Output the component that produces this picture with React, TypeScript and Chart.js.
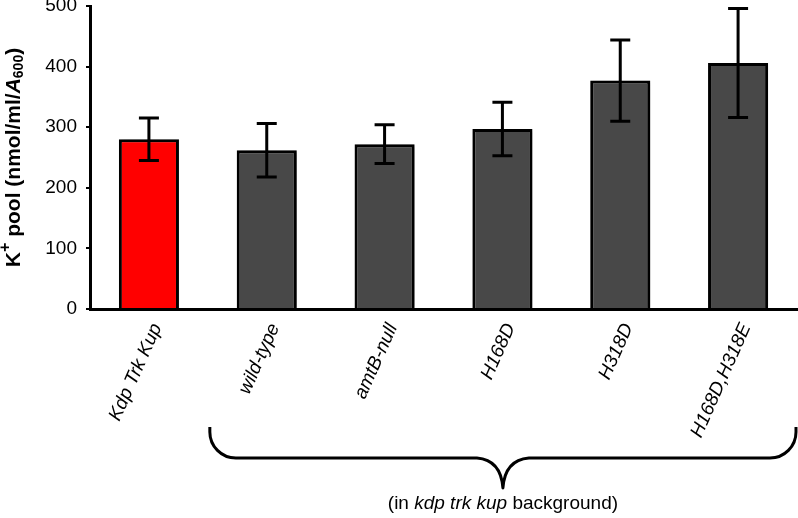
import React, { useEffect, useRef } from "react";
import { Chart, registerables } from "chart.js";

Chart.register(...registerables);

const categories = ["Kdp Trk Kup", "wild-type", "amtB-null", "H168D", "H318D", "H168D,H318E"];
const poolValues = [280, 262, 272, 297, 377, 406];
const poolErrors = [35, 44, 32, 44, 67, 90];
const barColors = ["#FF0000", "#484848", "#484848", "#484848", "#484848", "#484848"];
const yTickValues = [0, 100, 200, 300, 400, 500];
const noteParts = [
  { text: "(in ", italic: false },
  { text: "kdp trk kup", italic: true },
  { text: " background)", italic: false },
];

const FONT = "'Liberation Sans', Arial, Helvetica, sans-serif";

const decorPlugin = {
  id: "decor",
  beforeDatasetsDraw(chart: any) {
    const ctx = chart.ctx;
    ctx.save();
    ctx.shadowColor = "rgba(0,0,0,0.35)";
    ctx.shadowBlur = 4;
    ctx.shadowOffsetX = 3;
    ctx.shadowOffsetY = 1;
  },
  afterDatasetsDraw(chart: any) {
    const ctx = chart.ctx;
    ctx.restore();
    const meta = chart.getDatasetMeta(0);
    const y = chart.scales.y;
    ctx.save();
    ctx.strokeStyle = "#000";
    ctx.lineWidth = 3;
    meta.data.forEach((bar: any, i: number) => {
      const x = bar.x;
      const top = y.getPixelForValue(poolValues[i] + poolErrors[i]);
      const bot = y.getPixelForValue(poolValues[i] - poolErrors[i]);
      ctx.beginPath();
      ctx.moveTo(x, top);
      ctx.lineTo(x, bot);
      ctx.moveTo(x - 10, top);
      ctx.lineTo(x + 10, top);
      ctx.moveTo(x - 10, bot);
      ctx.lineTo(x + 10, bot);
      ctx.stroke();
    });
    ctx.restore();
  },
  afterDraw(chart: any) {
    const ctx = chart.ctx;
    const area = chart.chartArea;
    // Y axis title with superscript / subscript
    const pieces = [
      { t: "K", font: `bold 21px ${FONT}`, dy: 0 },
      { t: "+", font: `bold 16px ${FONT}`, dy: -8 },
      { t: " pool (nmol/ml/", font: `bold 21px ${FONT}`, dy: 0 },
      { t: "A", font: `italic bold 21px ${FONT}`, dy: 0 },
      { t: "600", font: `bold 14px ${FONT}`, dy: 5 },
      { t: ")", font: `bold 21px ${FONT}`, dy: 0 },
    ];
    ctx.save();
    let total = 0;
    const widths = pieces.map((p) => {
      ctx.font = p.font;
      const w = ctx.measureText(p.t).width;
      total += w;
      return w;
    });
    ctx.translate(14, (area.top + area.bottom) / 2);
    ctx.rotate(-Math.PI / 2);
    ctx.fillStyle = "#000";
    ctx.textBaseline = "middle";
    ctx.textAlign = "left";
    let cx = -total / 2;
    pieces.forEach((p, i) => {
      ctx.font = p.font;
      ctx.fillText(p.t, cx, p.dy);
      cx += widths[i];
    });
    ctx.restore();

    // Brace below the group of mutants
    const xs = chart.scales.x;
    const xl = xs.getPixelForValue(0.5) + 2;
    const xr = area.right - 1;
    const xm = (xl + xr) / 2;
    const yTop = 427;
    const yH = 458;
    const yTip = 488;
    const r = 26;
    ctx.save();
    ctx.strokeStyle = "#000";
    ctx.lineWidth = 3;
    ctx.lineJoin = "round";
    ctx.beginPath();
    ctx.moveTo(xl, yTop);
    ctx.arcTo(xl, yH, xl + r, yH, r);
    ctx.lineTo(xm - 26, yH);
    ctx.quadraticCurveTo(xm - 2, yH + 2, xm, yTip);
    ctx.quadraticCurveTo(xm + 2, yH + 2, xm + 26, yH);
    ctx.lineTo(xr - r, yH);
    ctx.arcTo(xr, yH, xr, yTop, r);
    ctx.lineTo(xr, yTop);
    ctx.stroke();

    // Note text
    ctx.fillStyle = "#000";
    ctx.textBaseline = "alphabetic";
    ctx.textAlign = "left";
    let nTotal = 0;
    const nW = noteParts.map((p) => {
      ctx.font = `${p.italic ? "italic " : ""}19px ${FONT}`;
      const w = ctx.measureText(p.text).width;
      nTotal += w;
      return w;
    });
    let nx = xm - nTotal / 2;
    noteParts.forEach((p, i) => {
      ctx.font = `${p.italic ? "italic " : ""}19px ${FONT}`;
      ctx.fillText(p.text, nx, 509);
      nx += nW[i];
    });
    ctx.restore();
  },
};

export default function App() {
  const canvasRef = useRef<HTMLCanvasElement | null>(null);

  useEffect(() => {
    if (!canvasRef.current) return;
    const chart = new Chart(canvasRef.current, {
      type: "bar",
      data: {
        labels: categories,
        datasets: [
          {
            data: poolValues,
            backgroundColor: barColors,
            borderColor: "#000",
            borderWidth: 3,
            barPercentage: 0.51,
            categoryPercentage: 1,
          },
        ],
      },
      options: {
        responsive: false,
        animation: false,
        layout: { padding: { top: 6, right: 1, left: 0, bottom: 0 } },
        plugins: {
          legend: { display: false },
          tooltip: { enabled: false },
          title: { display: false },
        },
        scales: {
          x: {
            grid: { display: false, drawTicks: false },
            border: { display: true, color: "#000", width: 3 },
            ticks: {
              color: "#000",
              font: { family: FONT, size: 19, style: "italic" },
              maxRotation: 66,
              minRotation: 66,
              autoSkip: false,
              padding: 11,
              labelOffset: 8,
            },
            afterFit(scale: any) {
              scale.height = 518 - 309;
              scale.paddingLeft = 0;
              scale.paddingRight = 0;
            },
          },
          y: {
            min: 0,
            max: 500,
            afterBuildTicks(scale: any) {
              scale.ticks = yTickValues.map((v) => ({ value: v }));
            },
            ticks: {
              color: "#000",
              font: { family: FONT, size: 19 },
              padding: 9,
            },
            grid: {
              display: true,
              drawOnChartArea: false,
              drawTicks: true,
              tickLength: 4,
              color: "#000",
              lineWidth: 2,
            },
            border: { display: true, color: "#000", width: 3 },
            afterFit(scale: any) {
              scale.width = 90;
              scale.paddingTop = 0;
              scale.paddingBottom = 0;
            },
          },
        },
      },
      plugins: [decorPlugin],
    });
    return () => chart.destroy();
  }, []);

  return (
    <div style={{ position: "absolute", left: 0, top: 0, width: 798, height: 518, background: "#fff" }}>
      <canvas ref={canvasRef} width={798} height={518} />
    </div>
  );
}
